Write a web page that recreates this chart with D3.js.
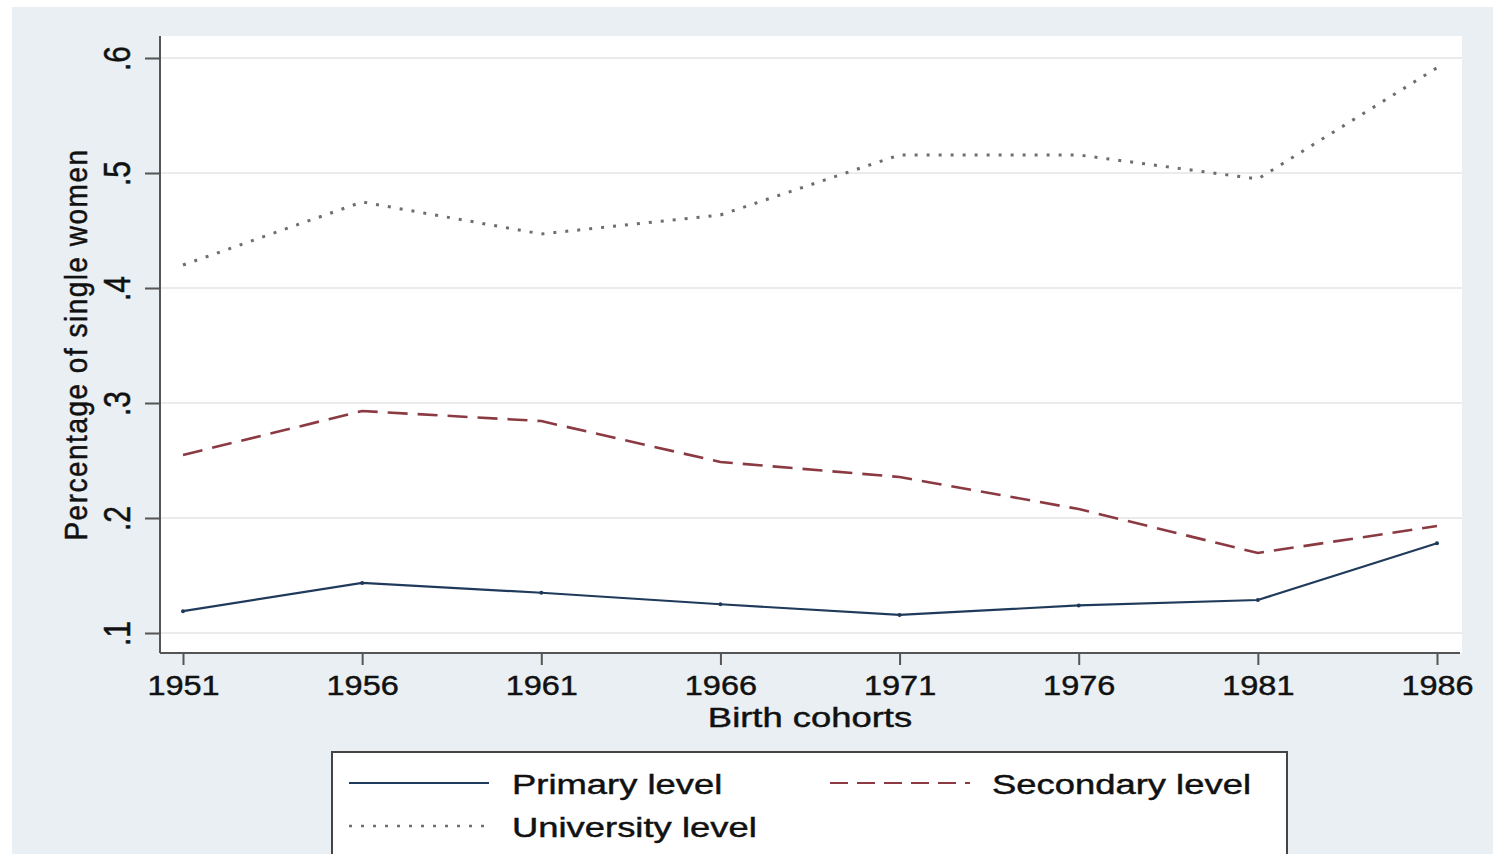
<!DOCTYPE html>
<html><head><meta charset="utf-8">
<script src="https://cdn.jsdelivr.net/npm/d3@7"></script>
<style>
html,body{margin:0;padding:0;background:#fff;}
text{font-family:"Liberation Sans",Arial,Helvetica,sans-serif;fill:#111;stroke:#111;stroke-width:0.45px;}
</style></head>
<body>
<svg id="chart" width="1496" height="854"></svg>
<script>
const cohorts = [1951, 1956, 1961, 1966, 1971, 1976, 1981, 1986];
const primary = [0.119, 0.1435, 0.135, 0.125, 0.1157, 0.124, 0.1287, 0.178];
const secondary = [0.2548, 0.293, 0.2843, 0.2487, 0.2357, 0.2078, 0.1696, 0.193];
const university = [0.420, 0.4748, 0.447, 0.4635, 0.5157, 0.5157, 0.4948, 0.5915];
const yTicks = [0.1, 0.2, 0.3, 0.4, 0.5, 0.6];
const yTickLabels = [".1", ".2", ".3", ".4", ".5", ".6"];
const seriesNames = ["Primary level", "Secondary level", "University level"];

const svg = d3.select("#chart");
svg.append("rect").attr("x", 12).attr("y", 7).attr("width", 1481).attr("height", 847).attr("fill", "#e9eff2");

const plot = {left: 160, right: 1462, top: 36, bottom: 653};
svg.append("rect").attr("x", plot.left).attr("y", plot.top)
  .attr("width", plot.right - plot.left).attr("height", plot.bottom - plot.top).attr("fill", "#ffffff");

const x = d3.scaleLinear().domain([1951, 1986]).range([183, 1437]);
const y = d3.scaleLinear().domain([0.1, 0.6]).range([633, 58]);

// gridlines
svg.append("g").selectAll("line").data(yTicks).join("line")
  .attr("x1", plot.left).attr("x2", plot.right)
  .attr("y1", d => y(d)).attr("y2", d => y(d))
  .attr("stroke", "#ebebeb").attr("stroke-width", 2);

// y axis
const yAxis = svg.append("g").attr("transform", `translate(${plot.left},0)`)
  .call(d3.axisLeft(y).tickValues(yTicks).tickFormat((d, i) => yTickLabels[i]).tickSize(15).tickPadding(16));
yAxis.select(".domain").attr("d", `M0,${plot.top}V${plot.bottom}`).attr("stroke", "#555").attr("stroke-width", 2);
yAxis.selectAll(".tick line").attr("stroke", "#555").attr("stroke-width", 2);
yAxis.selectAll(".tick text")
  .attr("x", 0).attr("y", 0).attr("dy", 0)
  .attr("transform", "translate(-30,0) scale(1.2,1) rotate(-90)")
  .attr("text-anchor", "middle")
  .style("font-size", "30px").style("font-family", "Liberation Sans, Arial, sans-serif").attr("fill", "#111");

// x axis
const xAxis = svg.append("g").attr("transform", `translate(0,${plot.bottom})`)
  .call(d3.axisBottom(x).tickValues(cohorts).tickFormat(d3.format("d")).tickSize(12).tickPadding(8));
xAxis.select(".domain").attr("d", `M${plot.left},0H${plot.right - 2}`).attr("stroke", "#555").attr("stroke-width", 2);
xAxis.selectAll(".tick line").attr("stroke", "#555").attr("stroke-width", 2);
xAxis.selectAll(".tick text").attr("x", 0).attr("dy", 0).attr("y", 42)
  .style("font-size", "28px").style("font-family", "Liberation Sans, Arial, sans-serif").attr("fill", "#111")
  .attr("transform", "scale(1.16,1)");

// axis titles
svg.append("text").attr("transform", `translate(87,${(plot.top + plot.bottom) / 2}) scale(1.15,1) rotate(-90)`)
  .attr("text-anchor", "middle").style("font-size", "28px").style("letter-spacing", "1.5px")
  .text("Percentage of single women");
svg.append("text").attr("transform", "translate(810,727) scale(1.3,1)").attr("text-anchor", "middle")
  .style("font-size", "28px").text("Birth cohorts");

// lines
const styles = [
  {color: "#1f3a5a", dash: null, width: 2.2},
  {color: "#8c3a42", dash: "20,10", width: 2.6},
  {color: "#6e6e6e", dash: "3,9", width: 3}
];
const allSeries = [primary, secondary, university];
const line = d3.line().x((d, i) => x(cohorts[i])).y(d => y(d));
allSeries.forEach((s, k) => {
  const p = svg.append("path").datum(s).attr("d", line).attr("fill", "none")
    .attr("stroke", styles[k].color).attr("stroke-width", styles[k].width);
  if (styles[k].dash) p.attr("stroke-dasharray", styles[k].dash);
});
svg.append("g").selectAll("circle").data(primary).join("circle")
  .attr("cx", (d, i) => x(cohorts[i])).attr("cy", d => y(d)).attr("r", 2).attr("fill", "#1f3a5a");

// legend
const lg = svg.append("g");
lg.append("rect").attr("x", 332).attr("y", 752).attr("width", 955).attr("height", 110)
  .attr("fill", "#fff").attr("stroke", "#444").attr("stroke-width", 2);
const legendItems = [
  {name: seriesNames[0], lx: 349, ly: 783, tx: 512, ty: 794, style: styles[0], dash: null},
  {name: seriesNames[1], lx: 830, ly: 783, tx: 992, ty: 794, style: styles[1], dash: "18,9"},
  {name: seriesNames[2], lx: 349, ly: 826, tx: 512, ty: 837, style: styles[2], dash: "3,9"}
];
legendItems.forEach(it => {
  const l = lg.append("line").attr("x1", it.lx).attr("x2", it.lx + 140).attr("y1", it.ly).attr("y2", it.ly)
    .attr("stroke", it.style.color).attr("stroke-width", it.style.width - 0.4);
  if (it.dash) l.attr("stroke-dasharray", it.dash);
  lg.append("text").attr("transform", `translate(${it.tx},${it.ty}) scale(1.3,1)`)
    .style("font-size", "28px").text(it.name);
});
</script>
</body></html>
